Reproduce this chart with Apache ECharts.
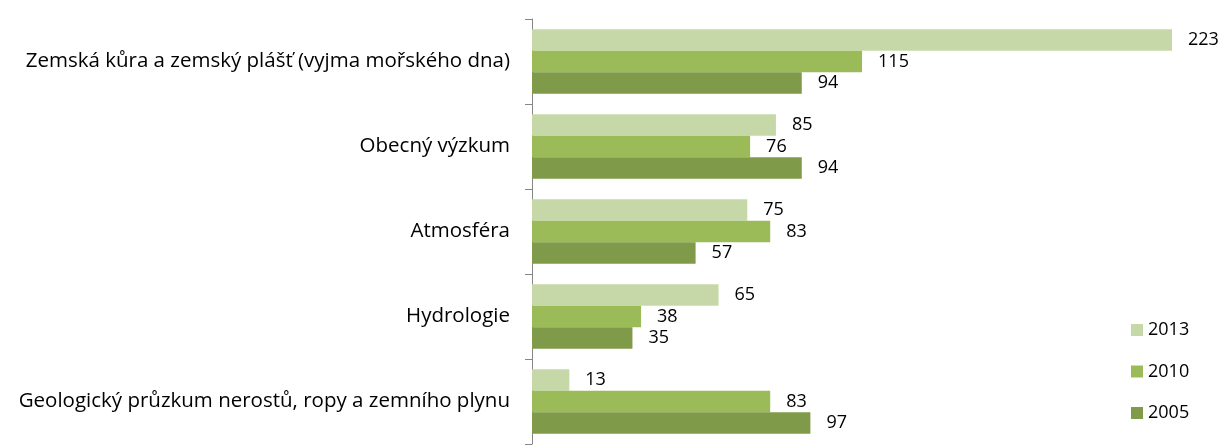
<!DOCTYPE html>
<html>
<head>
<meta charset="utf-8">
<script src="https://cdn.jsdelivr.net/npm/echarts@6/dist/echarts.min.js"></script>
<style>html,body{margin:0;padding:0;background:#fff}#c{width:1222px;height:445px}</style>
</head>
<body>
<div id="c"></div>
<script>
const categories = [
  "Zemská kůra a zemský plášť (vyjma mořského dna)",
  "Obecný výzkum",
  "Atmosféra",
  "Hydrologie",
  "Geologický průzkum nerostů, ropy a zemního plynu"
];
const seriesNames = ["2013", "2010", "2005"];
const values2013 = [223, 85, 75, 65, 13];
const values2010 = [115, 76, 83, 38, 83];
const values2005 = [94, 94, 57, 35, 97];
const colors = ["#c6d8a8", "#9bbb59", "#7f9b4a"];

const FONT = "Open Sans";
const chart = echarts.init(document.getElementById('c'), null, {renderer: 'canvas'});
const data = [values2013, values2010, values2005];
chart.setOption({
  animation: false,
  textStyle: {fontFamily: FONT},
  grid: {left: 532, top: 19, width: 640, height: 425, containLabel: false},
  legend: {
    orient: 'vertical', left: 1131, top: 321, padding: 0,
    icon: 'rect', itemWidth: 12, itemHeight: 12, itemGap: 23.5,
    textStyle: {fontFamily: FONT, fontSize: 18, color: '#000'},
    data: seriesNames
  },
  xAxis: {
    type: 'value', min: 0, max: 223,
    show: false, splitLine: {show: false}
  },
  yAxis: {
    type: 'category', inverse: true, data: categories,
    axisLine: {show: true, lineStyle: {color: '#868686', width: 1}},
    axisTick: {show: true, length: 7, lineStyle: {color: '#868686'}},
    axisLabel: {fontFamily: FONT, fontSize: 20.5, color: '#000', margin: 22}
  },
  series: seriesNames.map((n, i) => ({
    name: n, type: 'bar', data: data[i],
    barGap: '0%', barCategoryGap: '24%',
    itemStyle: {color: colors[i]},
    label: {show: true, position: 'right', distance: 16, fontFamily: FONT, fontSize: 18, color: '#000'}
  }))
});
</script>
</body>
</html>
